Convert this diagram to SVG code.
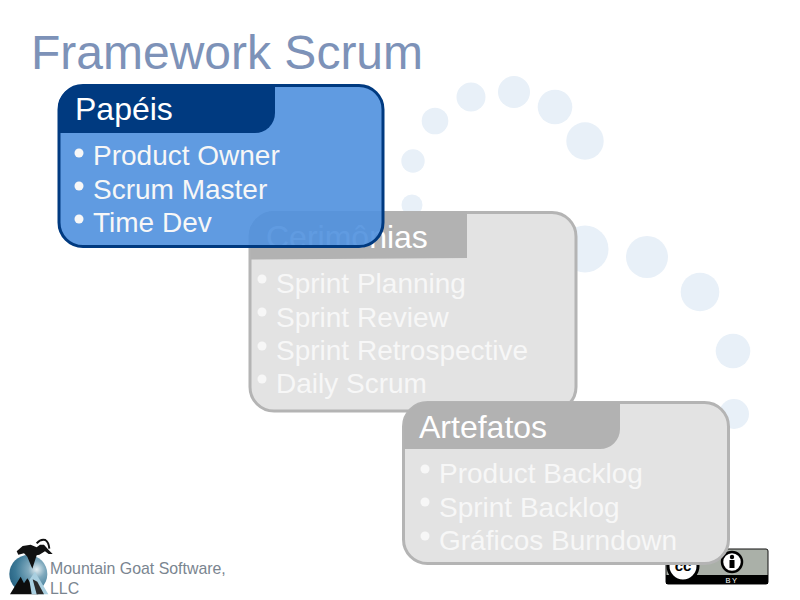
<svg xmlns="http://www.w3.org/2000/svg" width="800" height="600" viewBox="0 0 800 600">
<style>
text{font-family:"Liberation Sans",Arial,sans-serif}
.dot{fill:#e8f0f8}
.title{font-size:48px;fill:#7d92b8}
.head{font-size:32px;fill:#fff}
.item{font-size:28px;fill:#f7f7f7}
.bul{fill:#f7f7f7}
.panel{fill:#e3e3e3;stroke:#b4b4b4;stroke-width:3}
.hdr{fill:#b2b2b2}
.foot{font-size:15.9px;fill:#7a8590}
</style>
<defs>
<radialGradient id="ball" cx="0.72" cy="0.38" r="0.75">
<stop offset="0" stop-color="#e4eef2"/><stop offset="0.3" stop-color="#7fa9bd"/><stop offset="0.75" stop-color="#3a7896"/><stop offset="1" stop-color="#2b6685"/>
</radialGradient>
</defs>
<rect width="800" height="600" fill="#fff"/>
<g id="cc-badge">
<rect x="666" y="549" width="102" height="35" rx="2" fill="#aab0a8" stroke="#111" stroke-width="1"/>
<rect x="666" y="575" width="102" height="9" fill="#000"/>
<circle cx="683" cy="566" r="15" fill="#fff" stroke="#000" stroke-width="3"/>
<text x="683" y="571" font-size="15" font-weight="bold" fill="#000" text-anchor="middle">cc</text>
<circle cx="732" cy="562" r="10" fill="#fff" stroke="#000" stroke-width="2.500"/>
<circle cx="732" cy="557" r="2.200" fill="#000"/>
<rect x="729.500" y="560" width="5" height="8" fill="#000"/>
<text x="732" y="583" font-size="7.500" fill="#fff" text-anchor="middle" letter-spacing="1.500">BY</text>
</g>
<g id="background-dots">
<circle class="dot" cx="435" cy="121" r="13.300"/>
<circle class="dot" cx="471" cy="97" r="14.500"/>
<circle class="dot" cx="514" cy="92" r="16"/>
<circle class="dot" cx="555" cy="107" r="17.300"/>
<circle class="dot" cx="585" cy="141" r="18.700"/>
<circle class="dot" cx="413" cy="161" r="11.700"/>
<circle class="dot" cx="412" cy="205" r="10.500"/>
<circle class="dot" cx="585" cy="249" r="23.500"/>
<circle class="dot" cx="647" cy="257" r="21"/>
<circle class="dot" cx="700" cy="292" r="19.300"/>
<circle class="dot" cx="733" cy="351" r="17.300"/>
<circle class="dot" cx="734" cy="414" r="15"/>
</g>
<text id="title" class="title" x="31" y="69">Framework Scrum</text>
<g id="cerimonias">
<rect class="panel" x="250" y="212.500" width="326" height="198.500" rx="24"/>
<path class="hdr" d="M274 211H467V258L251 259.500V235A24 24 0 0 1 274 211Z"/>
<text class="head" x="266" y="248">Cerimônias</text>
<circle class="bul" cx="262" cy="279" r="4.500"/><text class="item" x="276" y="293">Sprint Planning</text>
<circle class="bul" cx="262" cy="312" r="4.500"/><text class="item" x="276" y="327">Sprint Review</text>
<circle class="bul" cx="262" cy="346" r="4.500"/><text class="item" x="276" y="360">Sprint Retrospective</text>
<circle class="bul" cx="262" cy="379" r="4.500"/><text class="item" x="276" y="393">Daily Scrum</text>
</g>
<g id="artefatos">
<rect class="panel" x="403.500" y="402.500" width="325" height="161" rx="24"/>
<path class="hdr" d="M427 402H620V429A20 20 0 0 1 600 449H404V426A24 24 0 0 1 427 402Z"/>
<text class="head" x="419" y="438">Artefatos</text>
<circle class="bul" cx="425" cy="469" r="4.500"/><text class="item" x="439" y="483">Product Backlog</text>
<circle class="bul" cx="425" cy="502" r="4.500"/><text class="item" x="439" y="517">Sprint Backlog</text>
<circle class="bul" cx="425" cy="536" r="4.500"/><text class="item" x="439" y="550">Gráficos Burndown</text>
</g>
<g id="papeis">
<rect x="59" y="85.500" width="324" height="161" rx="24" fill="#4f90de" fill-opacity="0.9" stroke="#003a80" stroke-width="3"/>
<path d="M82 85H275V113A20 20 0 0 1 255 133H58V109A24 24 0 0 1 82 85Z" fill="#003a80"/>
<text class="head" x="75" y="120">Papéis</text>
<circle class="bul" cx="79" cy="153" r="4.500"/><text class="item" x="93" y="165">Product Owner</text>
<circle class="bul" cx="79" cy="186" r="4.500"/><text class="item" x="93" y="199">Scrum Master</text>
<circle class="bul" cx="79" cy="219" r="4.500"/><text class="item" x="93" y="232">Time Dev</text>
</g>
<g id="mountain-goat-logo">
<g transform="translate(0 530) scale(0.3333)">
<circle cx="85" cy="132" r="57" fill="url(#ball)"/>
<path d="M50 64L68 48L92 44L110 52L120 44L132 44L146 60L158 72L146 72L135 64L118 74L110 76L97 116L82 80L72 70L55 74Z" fill="#111"/>
<path d="M110 40Q122 26 136 30Q146 36 148 56" fill="none" stroke="#111" stroke-width="6"/>
<path d="M30 193L62 140L72 160L82 145L115 193Z" fill="#0d0d0d"/>
<path d="M95 193L88 150L105 125L145 193Z" fill="#a9cfe0"/>
<path d="M98 148L112 155L132 193H110Z" fill="#2a2a2a"/>
</g>
</g>
<g id="footer-text">
<text class="foot" x="50" y="574">Mountain Goat Software,</text>
<text class="foot" x="50" y="594">LLC</text>
</g>
</svg>
